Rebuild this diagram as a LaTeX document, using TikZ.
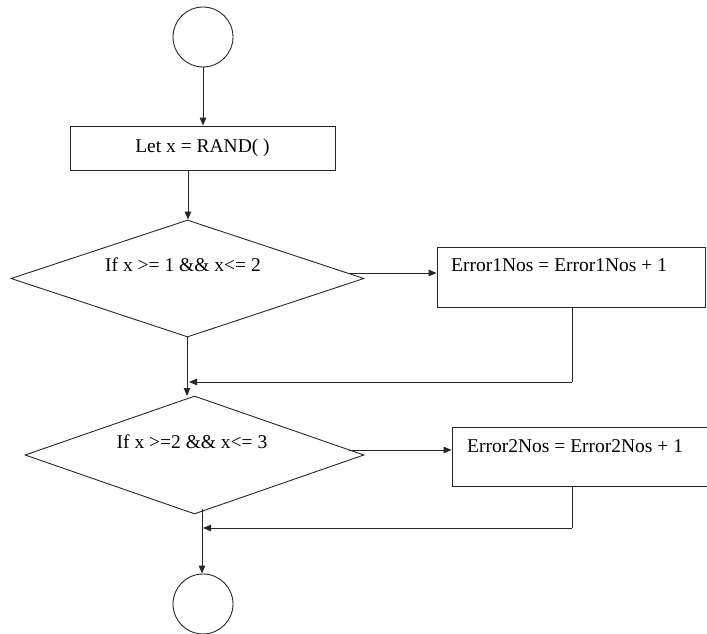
\documentclass[tikz,border=0pt]{standalone}
\usepackage{fontspec}
\setmainfont{Liberation Serif}
\usetikzlibrary{shapes.geometric,arrows.meta}
\begin{document}
\begin{tikzpicture}[x=1pt,y=-1pt,
  line/.style={draw=black!85,line width=0.9pt},
  arr/.style={line,-{Triangle[length=8pt,width=6.5pt]}},
  term/.style={circle,draw=black!85,line width=0.9pt,minimum size=60pt,inner sep=0pt},
  box/.style={rectangle,draw=black!85,line width=0.9pt,inner sep=0pt},
  dec/.style={diamond,draw=black!85,line width=0.9pt,inner sep=0pt},
  txt/.style={font=\fontsize{19.5}{21}\selectfont,inner sep=0pt}]
\useasboundingbox (0,0) rectangle (707,634);
% start
\node[term] (start) at (203,37) {};
% let
\node[box,minimum width=265pt,minimum height=44pt,txt] (let) at (202.5,148) {Let x = RAND( )};
% decision 1
\node[dec,minimum width=353pt,minimum height=117pt] (d1) at (187.5,278.5) {};
\node[txt] (d1t) at (183,265) {If x >= 1 \&\& x<= 2};
% error 1
\node[box,minimum width=268pt,minimum height=60pt] (e1) at (571,277) {};
\node[txt,anchor=west] (e1t) at (451,265) {Error1Nos = Error1Nos + 1};
% decision 2
\node[dec,minimum width=339pt,minimum height=118pt] (d2) at (194.5,455) {};
\node[txt] (d2t) at (192,442) {If x >=2 \&\& x<= 3};
% error 2
\node[box,minimum width=257pt,minimum height=59pt] (e2) at (580.5,456.5) {};
\node[txt,anchor=west] (e2t) at (467,446) {Error2Nos = Error2Nos + 1};
% end
\node[term] (stop) at (203,604) {};
% coordinates
\coordinate (c1) at (188,170);
\coordinate (c2) at (349,273);
\coordinate (c3) at (572,307);
\coordinate (c4) at (572,382);
\coordinate (c5) at (189,382);
\coordinate (c6) at (187,337);
\coordinate (c7) at (187,396);
\coordinate (c8) at (349,450);
\coordinate (c9) at (572,486);
\coordinate (c10) at (572,528);
\coordinate (c11) at (203,528);
\coordinate (c12) at (202,509);
% connectors
\draw[arr] (start.south) -- (let.north -| start.south);
\draw[arr] (c1) -- (d1.north -| c1);
\draw[arr] (c2) -- (e1.west |- c2);
\draw[line] (c3) -- (c4);
\draw[arr] (c4) -- (c5);
\draw[arr] (c6) -- (c7);
\draw[arr] (c8) -- (e2.west |- c8);
\draw[line] (c9) -- (c10);
\draw[arr] (c10) -- (c11);
\draw[arr] (c12) -- (stop.north -| c12);
\end{tikzpicture}
\end{document}
